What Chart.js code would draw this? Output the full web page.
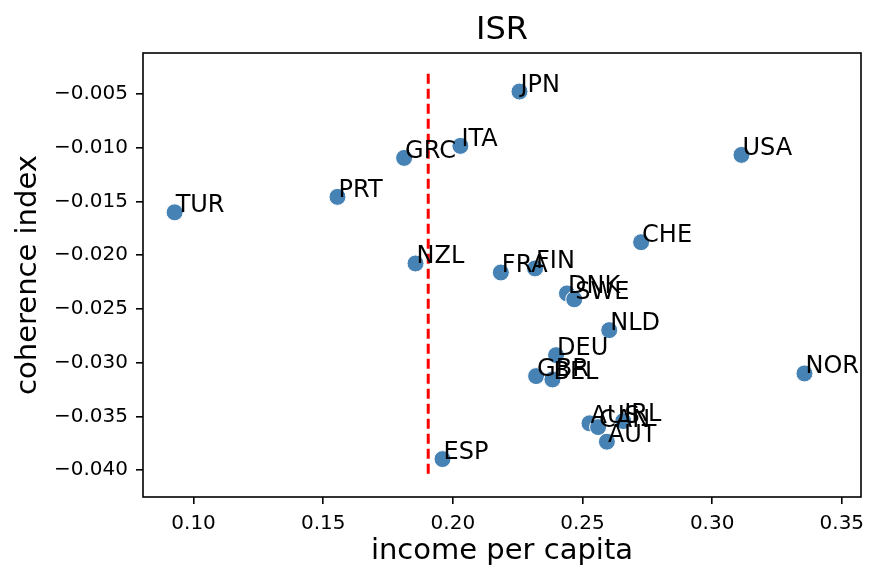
<!DOCTYPE html>
<html>
<head>
<meta charset="utf-8">
<script src="https://cdn.jsdelivr.net/npm/chart.js@4"></script>
<style>
  body { margin: 0; background: #fff; }
  #wrap { width: 885px; height: 584px; }
</style>
</head>
<body>
<div id="wrap"><canvas id="isrCanvas"></canvas></div>
<script>
const countries = ["TUR", "PRT", "GRC", "NZL", "ESP", "ITA", "FRA", "JPN", "FIN", "GBR", "BEL",
    "DEU", "DNK", "SWE", "AUS", "CAN", "AUT", "NLD", "IRL", "CHE", "USA", "NOR"];
const incomePerCapita = [0.0927, 0.1555, 0.1812, 0.1856, 0.1960, 0.2029, 0.2185, 0.2257, 0.2317, 0.2321, 0.2384,
    0.2398, 0.2440, 0.2468, 0.2527, 0.2560, 0.2594, 0.2603, 0.2657, 0.2726, 0.3113, 0.3356];
const coherenceIndex = [-0.0160, -0.01456, -0.01093, -0.02076, -0.03898, -0.00981, -0.0216, -0.00475, -0.02122, -0.03125, -0.03156,
    -0.0293, -0.02355, -0.0241, -0.03565, -0.0360, -0.03736, -0.02697, -0.03544, -0.01878, -0.01065, -0.0310];
const cutoffX = 0.1905;
const cutoffYRange = [-0.0031, -0.0406];

(() => {
    const FONT = 'DejaVu Sans';
    const ctx = document.getElementById('isrCanvas').getContext('2d');

    const points = countries.map((c, i) => ({ x: incomePerCapita[i], y: coherenceIndex[i] }));
    const cutoff = cutoffYRange.map(y => ({ x: cutoffX, y: y }));

    const fmt = (v, d) => (v < -1e-9 ? '\u2212' : '') + Math.abs(v).toFixed(d);

    // country codes next to each dot, plus the frame round the axes
    const extras = {
        id: 'extras',
        afterDatasetsDraw(chart) {
            const c = chart.ctx;
            const meta = chart.getDatasetMeta(1);
            c.save();
            c.font = '24px "' + FONT + '"';
            c.fillStyle = '#000';
            c.textAlign = 'left';
            c.textBaseline = 'alphabetic';
            meta.data.forEach((pt, i) => c.fillText(countries[i], pt.x + 1, pt.y));
            c.restore();
        },
        afterDraw(chart) {
            const a = chart.chartArea;
            const c = chart.ctx;
            c.save();
            c.strokeStyle = '#000';
            c.lineWidth = 1.6;
            c.strokeRect(a.left, a.top, a.right - a.left, a.bottom - a.top);
            c.restore();
        }
    };

    new Chart(ctx, {
        type: 'scatter',
        data: {
            datasets: [{
                type: 'line',
                data: cutoff,
                borderColor: '#ff0000',
                borderWidth: 3,
                borderDash: [10, 5],
                pointRadius: 0,
                showLine: true,
                fill: false
            }, {
                data: points,
                backgroundColor: '#4682b4',
                borderColor: '#ffffff',
                borderWidth: 1,
                pointRadius: 8.5
            }]
        },
        options: {
            responsive: true,
            maintainAspectRatio: false,
            animation: false,
            layout: { padding: { left: 0, right: 24, top: 0, bottom: 0 } },
            plugins: {
                legend: { display: false },
                tooltip: { enabled: false },
                title: {
                    display: true,
                    text: 'ISR',
                    fullSize: false,
                    color: '#000',
                    font: { family: FONT, size: 32, weight: 'normal' },
                    padding: { top: 11, bottom: 3.6 }
                }
            },
            scales: {
                x: {
                    type: 'linear',
                    min: 0.0805,
                    max: 0.3574,
                    afterFit: s => { s.height = 87; },
                    border: { display: false },
                    grid: { drawOnChartArea: false, drawTicks: true, tickLength: 7, color: '#000', lineWidth: 1.6 },
                    ticks: {
                        stepSize: 0.05,
                        includeBounds: false,
                        padding: 8,
                        color: '#000',
                        font: { family: FONT, size: 20 },
                        callback: v => fmt(v, 2)
                    },
                    title: {
                        display: true,
                        text: 'income per capita',
                        color: '#000',
                        font: { family: FONT, size: 29 },
                        padding: { top: 0, bottom: 15 }
                    }
                },
                y: {
                    type: 'linear',
                    min: -0.04251,
                    max: -0.00116,
                    afterFit: s => { s.width = 143; },
                    border: { display: false },
                    grid: { drawOnChartArea: false, drawTicks: true, tickLength: 7, color: '#000', lineWidth: 1.6 },
                    ticks: {
                        stepSize: 0.005,
                        includeBounds: false,
                        padding: 8,
                        color: '#000',
                        font: { family: FONT, size: 20 },
                        callback: v => fmt(v, 3)
                    },
                    title: {
                        display: true,
                        text: 'coherence index',
                        color: '#000',
                        font: { family: FONT, size: 29 },
                        padding: { top: 11, bottom: 0 }
                    }
                }
            }
        },
        plugins: [extras]
    });
})();
</script>
</body>
</html>
